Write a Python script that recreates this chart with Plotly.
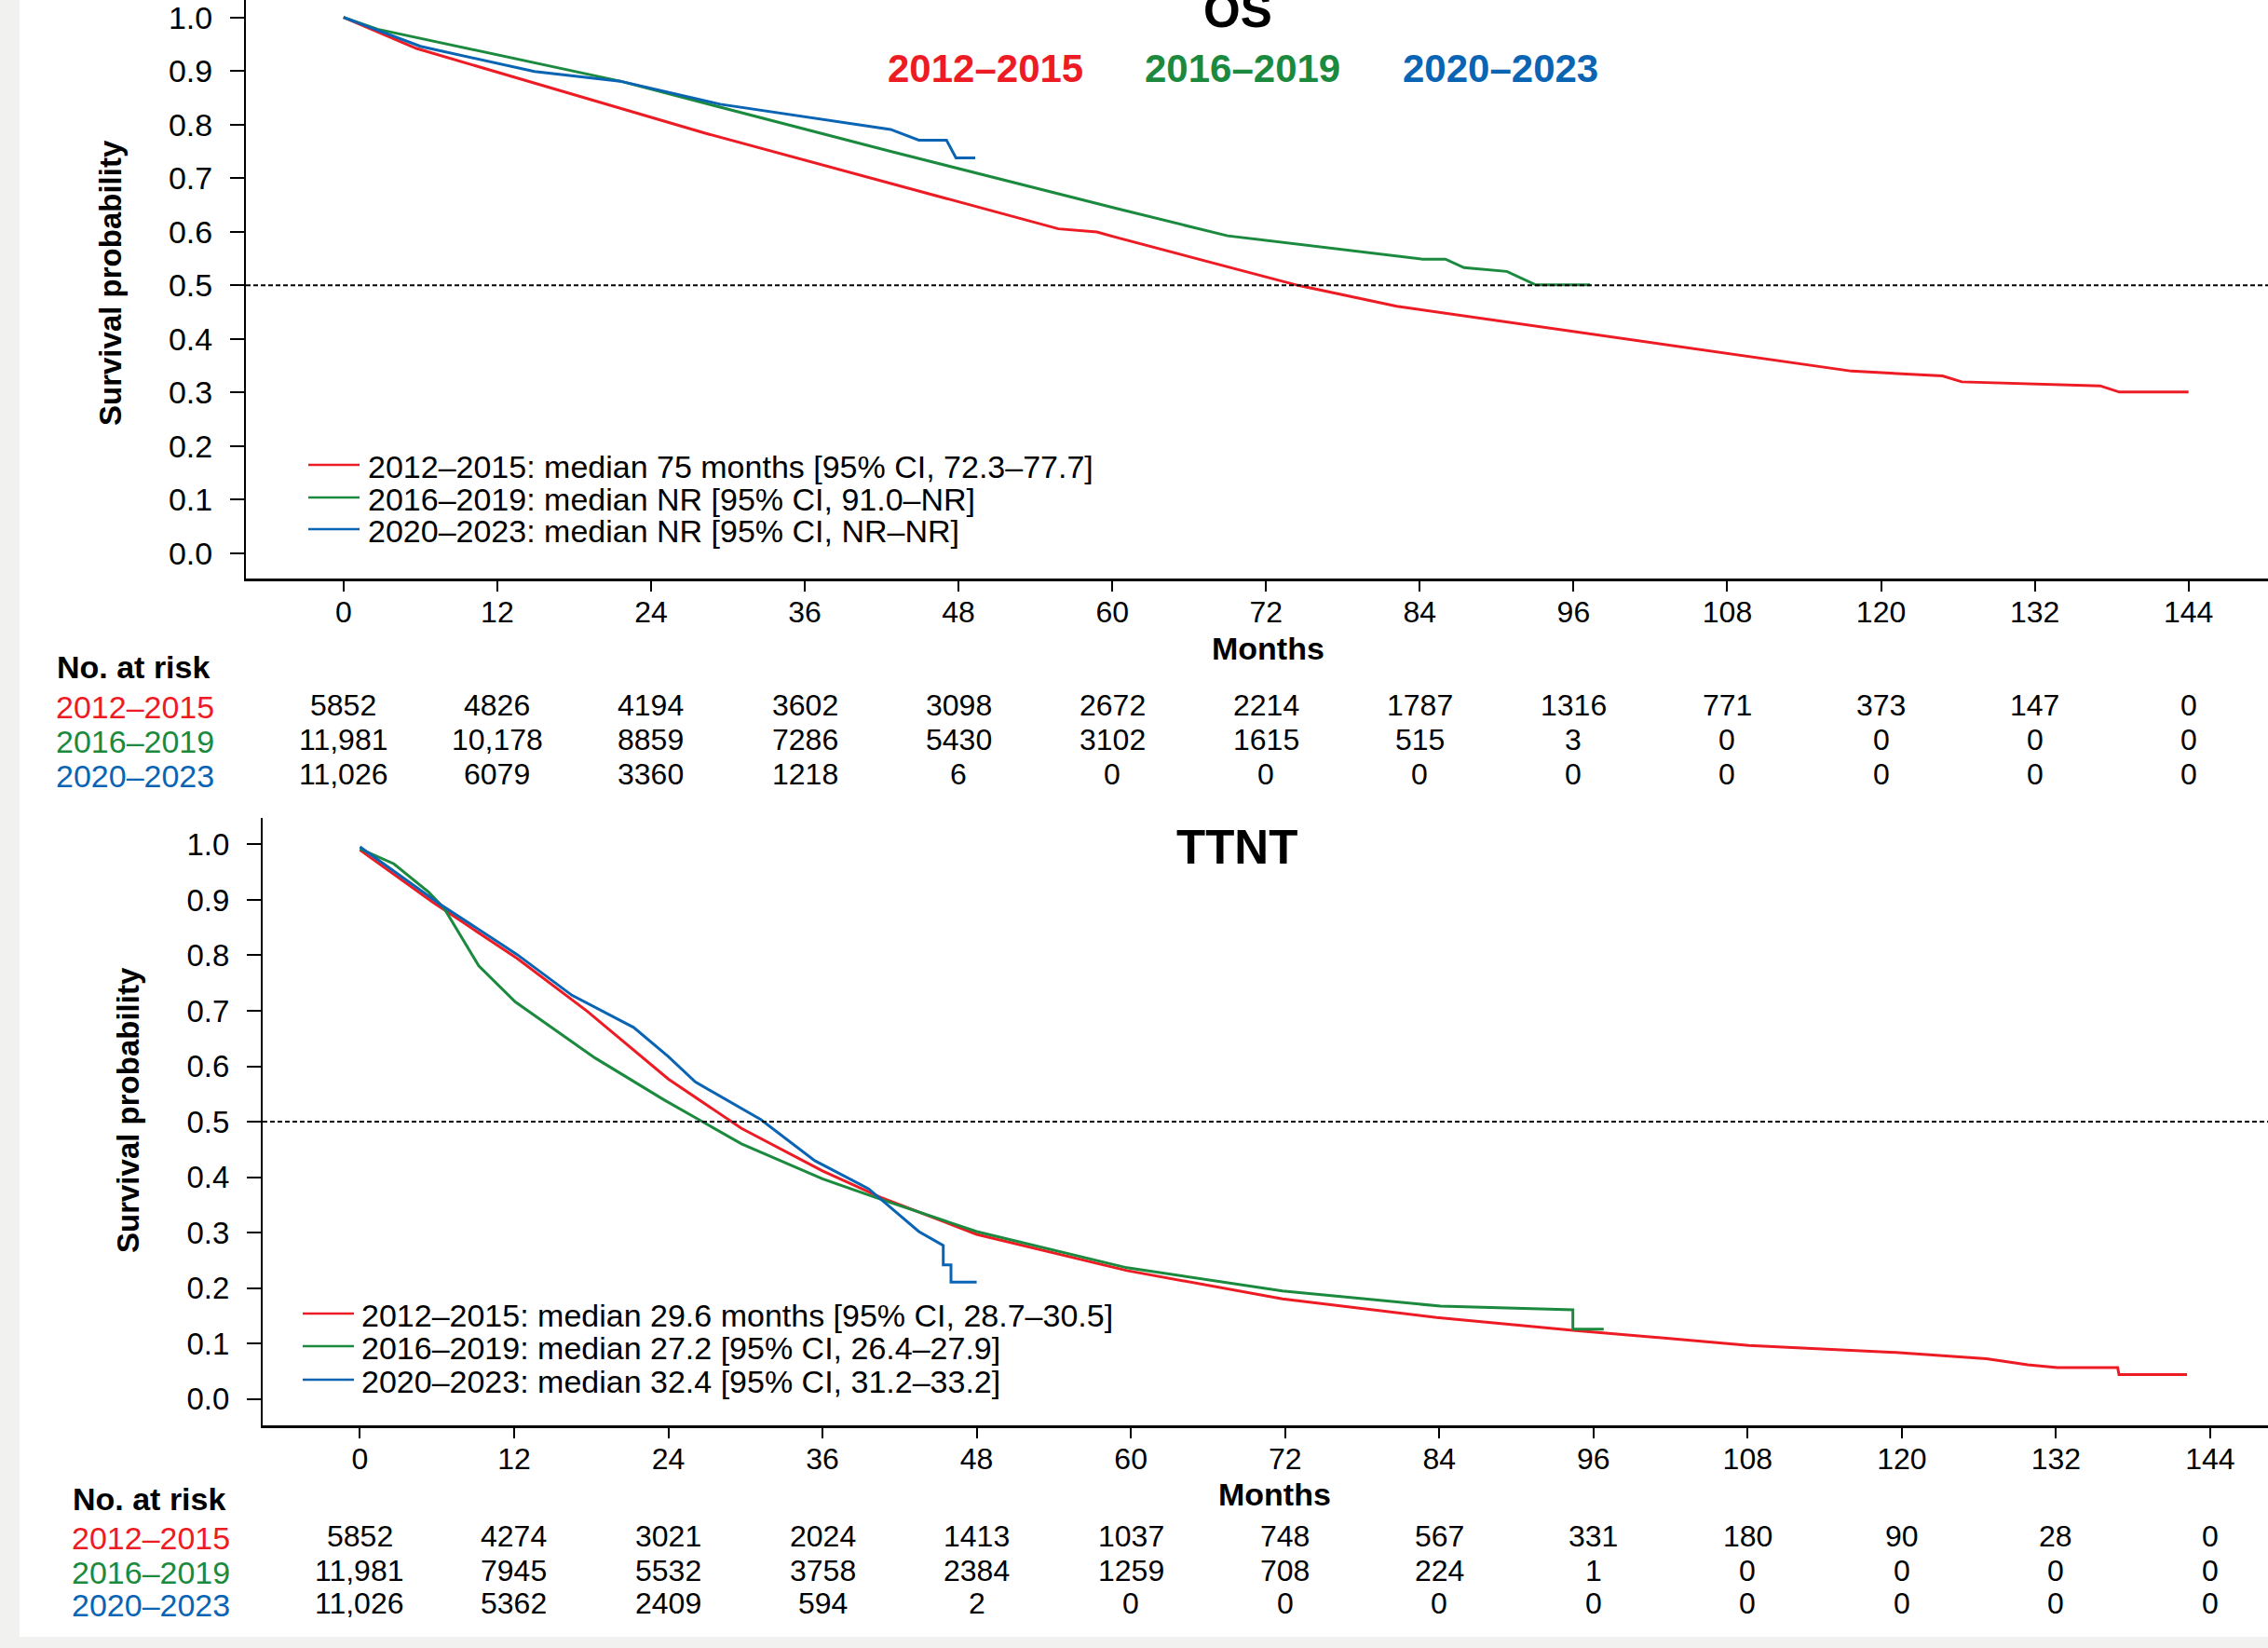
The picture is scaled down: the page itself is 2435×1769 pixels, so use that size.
import plotly.graph_objects as go

# ---------------- data ----------------
months_ticks = [0, 12, 24, 36, 48, 60, 72, 84, 96, 108, 120, 132, 144]
groups = ["2012–2015", "2016–2019", "2020–2023"]
colors = ["#ED1C24", "#1B8A3E", "#0A64B4"]

# OS curves (months, survival probability)
os_red_m = [0, 5.7, 28.3, 55.8, 58.8, 60.4, 74.5, 82.2, 117.7, 124.8, 126.3, 137.1, 138.6, 144]
os_red_s = [1.0, 0.942, 0.7835, 0.6055, 0.5997, 0.589, 0.5, 0.461, 0.340, 0.331, 0.320, 0.3126, 0.301, 0.301]
os_green_m = [0, 2.66, 21.6, 42.7, 60.4, 69.0, 84.2, 86.0, 87.45, 90.8, 93.05, 97.3]
os_green_s = [1.0, 0.978, 0.881, 0.750, 0.643, 0.5925, 0.549, 0.549, 0.533, 0.526, 0.501, 0.501]
os_blue_m = [0, 6.0, 14.9, 21.6, 29.4, 35.5, 42.7, 44.9, 47.06, 47.8, 49.3]
os_blue_s = [1.0, 0.946, 0.899, 0.881, 0.838, 0.816, 0.791, 0.771, 0.771, 0.738, 0.738]

# TTNT curves
tt_red_m = [0, 5.65, 8.05, 12.26, 17.7, 24.0, 29.7, 36.0, 40.5, 48.0, 59.7, 71.8, 83.8, 94.4,
            108.1, 119.8, 126.6, 129.8, 132.1, 136.8, 136.9, 142.2]
tt_red_s = [0.99, 0.896, 0.859, 0.794, 0.699, 0.577, 0.488, 0.4115, 0.364, 0.297, 0.2316, 0.1805,
            0.147, 0.124, 0.0968, 0.0837, 0.0728, 0.0618, 0.0566, 0.0566, 0.0443, 0.0443]
tt_green_m = [0, 2.64, 5.35, 6.55, 9.25, 12.1, 18.3, 23.7, 29.7, 36.0, 40.5, 48.0, 59.7, 71.8,
              84.1, 94.4, 94.4, 96.8]
tt_green_s = [0.992, 0.965, 0.914, 0.885, 0.781, 0.716, 0.615, 0.539, 0.460, 0.397, 0.3605, 0.302,
              0.2367, 0.195, 0.1675, 0.161, 0.126, 0.126]
tt_blue_m = [0, 6.25, 12.26, 16.5, 21.3, 24.0, 26.1, 31.2, 35.4, 39.6, 43.5, 45.4, 45.4, 46.0, 46.0, 48.0]
tt_blue_s = [0.9956, 0.892, 0.801, 0.728, 0.670, 0.6176, 0.5717, 0.504, 0.4297, 0.379, 0.302,
             0.2768, 0.2418, 0.2418, 0.211, 0.211]

# numbers at risk
os_risk_red = [5852, 4826, 4194, 3602, 3098, 2672, 2214, 1787, 1316, 771, 373, 147, 0]
os_risk_green = [11981, 10178, 8859, 7286, 5430, 3102, 1615, 515, 3, 0, 0, 0, 0]
os_risk_blue = [11026, 6079, 3360, 1218, 6, 0, 0, 0, 0, 0, 0, 0, 0]
tt_risk_red = [5852, 4274, 3021, 2024, 1413, 1037, 748, 567, 331, 180, 90, 28, 0]
tt_risk_green = [11981, 7945, 5532, 3758, 2384, 1259, 708, 224, 1, 0, 0, 0, 0]
tt_risk_blue = [11026, 5362, 2409, 594, 2, 0, 0, 0, 0, 0, 0, 0, 0]

os_legend = ["2012–2015: median 75 months [95% CI, 72.3–77.7]",
             "2016–2019: median NR [95% CI, 91.0–NR]",
             "2020–2023: median NR [95% CI, NR–NR]"]
tt_legend = ["2012–2015: median 29.6 months [95% CI, 28.7–30.5]",
             "2016–2019: median 27.2 [95% CI, 26.4–27.9]",
             "2020–2023: median 32.4 [95% CI, 31.2–33.2]"]

# ---------------- figure ----------------
W, H = 2435, 1769
FONT = "Liberation Sans, Arial, Helvetica, sans-serif"


def px(x):
    return x / W


def py(y):
    return 1 - y / H


fig = go.Figure()

os_curves = [(os_red_m, os_red_s), (os_green_m, os_green_s), (os_blue_m, os_blue_s)]
tt_curves = [(tt_red_m, tt_red_s), (tt_green_m, tt_green_s), (tt_blue_m, tt_blue_s)]
for (m, s), c, g in zip(os_curves, colors, groups):
    fig.add_trace(go.Scatter(x=m, y=s, mode="lines", line=dict(color=c, width=3),
                             name=g, showlegend=False, xaxis="x", yaxis="y"))
for (m, s), c, g in zip(tt_curves, colors, groups):
    fig.add_trace(go.Scatter(x=m, y=s, mode="lines", line=dict(color=c, width=3),
                             name=g, showlegend=False, xaxis="x2", yaxis="y2"))

yt = [i / 10 for i in range(11)]
ytt = ["%.1f" % v for v in yt]

common_x = dict(tickvals=months_ticks, ticks="outside", ticklen=11, tickwidth=2, tickcolor="black",
                showline=True, linecolor="black", linewidth=3, showgrid=False, zeroline=False,
                ticklabelstandoff=-5, ticklabeloverflow="allow",
                tickfont=dict(family=FONT, size=32, color="black"), fixedrange=True)
common_y = dict(tickvals=yt, ticktext=ytt, ticks="outside", ticklen=15, tickwidth=2, tickcolor="black",
                showline=True, linecolor="black", linewidth=2, showgrid=False, zeroline=False,
                ticklabelstandoff=12, ticklabeloverflow="allow", fixedrange=True)

fig.update_layout(
    width=W, height=H, margin=dict(l=0, r=0, t=0, b=0),
    paper_bgcolor="#F1F1EF", plot_bgcolor="white",
    font=dict(family=FONT, color="black"),
    xaxis=dict(domain=[px(264), 1], range=[-7.62, 150.2], anchor="y", **common_x),
    yaxis=dict(domain=[py(621), 1], range=[-0.047, 1.0325], anchor="x",
               tickfont=dict(family=FONT, size=34, color="black"), **common_y),
    xaxis2=dict(domain=[px(282), 1], range=[-7.57, 148.5], anchor="y2", **common_x),
    yaxis2=dict(domain=[py(1530), py(878)], range=[-0.0474, 1.0477], anchor="x2",
                tickfont=dict(family=FONT, size=33, color="black"), **common_y),
)

shapes = [
    dict(type="rect", xref="paper", yref="paper", x0=px(21), x1=1, y0=py(1757), y1=1,
         fillcolor="white", line=dict(width=0), layer="below"),
    dict(type="line", xref="x domain", yref="y", x0=0, x1=1, y0=0.5, y1=0.5,
         line=dict(color="black", width=2, dash="5px,3px")),
    dict(type="line", xref="x2 domain", yref="y2", x0=0, x1=1, y0=0.5, y1=0.5,
         line=dict(color="black", width=2, dash="5px,3px")),
]
ann = []

# legends (manual)
for i, (txt, c) in enumerate(zip(os_legend, colors)):
    yy = [499, 534, 568][i]
    shapes.append(dict(type="line", xref="paper", yref="paper", x0=px(331), x1=px(386),
                       y0=py(yy), y1=py(yy), line=dict(color=c, width=2.5)))
    ann.append(dict(text=txt, xref="paper", yref="paper", x=px(393), y=py(yy + 2),
                    xanchor="left", yanchor="middle", showarrow=False,
                    font=dict(family=FONT, size=34, color="black")))
for i, (txt, c) in enumerate(zip(tt_legend, colors)):
    yy = [1410, 1445, 1481][i]
    shapes.append(dict(type="line", xref="paper", yref="paper", x0=px(325), x1=px(380),
                       y0=py(yy), y1=py(yy), line=dict(color=c, width=2.5)))
    ann.append(dict(text=txt, xref="paper", yref="paper", x=px(386), y=py(yy + 2),
                    xanchor="left", yanchor="middle", showarrow=False,
                    font=dict(family=FONT, size=34, color="black")))

# titles
ann.append(dict(text="<b>OS</b>", xref="paper", yref="paper", x=px(1329), y=py(11),
                xanchor="center", yanchor="middle", showarrow=False,
                font=dict(family=FONT, size=51, color="black")))
ann.append(dict(text="<b>TTNT</b>", xref="paper", yref="paper", x=px(1328), y=py(909),
                xanchor="center", yanchor="middle", showarrow=False,
                font=dict(family=FONT, size=51, color="black")))
for g, c, xc in zip(groups, colors, [1058, 1334, 1611]):
    ann.append(dict(text="<b>%s</b>" % g, xref="paper", yref="paper", x=px(xc), y=py(74),
                    xanchor="center", yanchor="middle", showarrow=False,
                    font=dict(family=FONT, size=42, color=c)))

# axis titles
for (xc, yc) in [(1361, 696), (1368, 1604)]:
    ann.append(dict(text="<b>Months</b>", xref="paper", yref="paper", x=px(xc), y=py(yc),
                    xanchor="center", yanchor="middle", showarrow=False,
                    font=dict(family=FONT, size=34, color="black")))
for (xc, yc) in [(118, 304), (137, 1192)]:
    ann.append(dict(text="<b>Survival probability</b>", xref="paper", yref="paper", x=px(xc), y=py(yc),
                    xanchor="center", yanchor="middle", showarrow=False, textangle=-90,
                    font=dict(family=FONT, size=33, color="black")))


def fmt(n):
    return "{:,}".format(n) if n >= 10000 else str(n)


# numbers at risk
tables = [
    ("x", 59, 716, [757, 794, 831], [os_risk_red, os_risk_green, os_risk_blue]),
    ("x2", 76, 1609, [1649, 1686, 1721], [tt_risk_red, tt_risk_green, tt_risk_blue]),
]
for xref, lx, hy, rows, data in tables:
    ann.append(dict(text="<b>No. at risk</b>", xref="paper", yref="paper", x=px(lx), y=py(hy),
                    xanchor="left", yanchor="middle", showarrow=False,
                    font=dict(family=FONT, size=34, color="black")))
    for g, c, ry, vals in zip(groups, colors, rows, data):
        ann.append(dict(text=g, xref="paper", yref="paper", x=px(lx - 1), y=py(ry + 2),
                        xanchor="left", yanchor="middle", showarrow=False,
                        font=dict(family=FONT, size=34, color=c)))
        for mth, v in zip(months_ticks, vals):
            ann.append(dict(text=fmt(v), xref=xref, yref="paper", x=mth, y=py(ry),
                            xanchor="center", yanchor="middle", showarrow=False,
                            font=dict(family=FONT, size=32, color="black")))

fig.update_layout(shapes=shapes, annotations=ann)
fig.write_html(
    "out.html",
    config={"displayModeBar": False},
    post_script="document.body.style.margin='0px';document.body.style.padding='0px';"
                "document.body.style.overflow='hidden';",
)
